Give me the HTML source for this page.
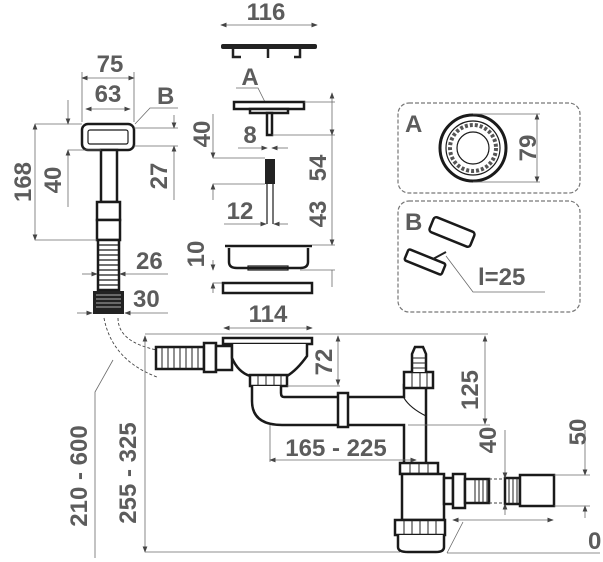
<!DOCTYPE html>
<html><head><style>
html,body{margin:0;padding:0;background:#fff;}
svg{display:block;}
text{font-family:"Liberation Sans",sans-serif;font-weight:bold;fill:#5c5c5c;font-size:24px;}
.d{stroke:#6a6a6a;stroke-width:0.8;fill:none;}
.p{stroke:#1a1a1a;stroke-width:2.5;fill:#fff;}
.t{stroke:#1a1a1a;stroke-width:1.2;fill:none;}
</style></head><body>
<svg width="603" height="562" viewBox="0 0 603 562" xmlns="http://www.w3.org/2000/svg">
<defs>
<marker id="a" markerWidth="8" markerHeight="6" refX="7" refY="3" orient="auto-start-reverse"><path d="M0,0 L8,3 L0,6 z" fill="#444"/></marker>
</defs>

<!-- LEFT handle assembly -->
<text x="110" y="72" text-anchor="middle">75</text>
<line class="d" x1="82" y1="78" x2="134" y2="78" marker-start="url(#a)" marker-end="url(#a)"/>
<line class="d" x1="82" y1="72" x2="82" y2="122"/><line class="d" x1="134" y1="72" x2="134" y2="122"/>
<text x="108" y="102" text-anchor="middle">63</text>
<line class="d" x1="86" y1="109" x2="130" y2="109" marker-start="url(#a)" marker-end="url(#a)"/>
<text x="157" y="104">B</text>
<polyline class="d" points="178,108 150,108 135,124"/>
<rect x="82" y="124" width="52" height="26" rx="6" class="p" stroke-width="3"/>
<rect x="88" y="130" width="40" height="14" rx="2" class="t"/>
<rect x="101" y="150" width="16" height="52" class="p" stroke-width="2"/>
<rect x="97" y="202" width="23" height="18" class="p" stroke-width="2"/>
<rect x="97" y="220" width="23" height="20" class="p" stroke-width="2"/>
<rect x="98" y="240" width="21" height="50" class="p" stroke-width="2"/>
<g class="t" stroke-width="0.8">
<line x1="98" y1="245" x2="119" y2="245"/><line x1="98" y1="250" x2="119" y2="250"/><line x1="98" y1="255" x2="119" y2="255"/><line x1="98" y1="260" x2="119" y2="260"/><line x1="98" y1="265" x2="119" y2="265"/><line x1="98" y1="270" x2="119" y2="270"/><line x1="98" y1="275" x2="119" y2="275"/><line x1="98" y1="280" x2="119" y2="280"/><line x1="98" y1="285" x2="119" y2="285"/>
</g>
<rect x="93" y="291" width="31" height="23" fill="#222"/>
<g stroke="#ddd" stroke-width="0.8"><line x1="96" y1="295" x2="121" y2="295"/><line x1="96" y1="299" x2="121" y2="299"/><line x1="96" y1="303" x2="121" y2="303"/><line x1="96" y1="307" x2="121" y2="307"/></g>
<text transform="translate(31,182) rotate(-90)" text-anchor="middle">168</text>
<line class="d" x1="35" y1="124" x2="35" y2="240" marker-start="url(#a)" marker-end="url(#a)"/>
<line class="d" x1="35" y1="124" x2="82" y2="124"/><line class="d" x1="35" y1="240" x2="97" y2="240"/>
<text transform="translate(61,180) rotate(-90)" text-anchor="middle">40</text>
<line class="d" x1="68" y1="100" x2="68" y2="124" marker-end="url(#a)"/>
<line class="d" x1="68" y1="150" x2="68" y2="207" marker-start="url(#a)"/>
<line class="d" x1="68" y1="150" x2="101" y2="150"/>
<text transform="translate(167,176) rotate(-90)" text-anchor="middle">27</text>
<line class="d" x1="174" y1="115" x2="174" y2="128" marker-end="url(#a)"/>
<line class="d" x1="174" y1="146" x2="174" y2="200" marker-start="url(#a)"/>
<line class="d" x1="134" y1="128" x2="178" y2="128"/><line class="d" x1="134" y1="146" x2="178" y2="146"/>
<text x="136" y="269">26</text>
<line class="d" x1="82" y1="274" x2="97" y2="274" marker-end="url(#a)"/>
<line class="d" x1="120" y1="274" x2="168" y2="274" marker-start="url(#a)"/>
<text x="133" y="307">30</text>
<line class="d" x1="77" y1="313" x2="92" y2="313" marker-end="url(#a)"/>
<line class="d" x1="125" y1="313" x2="168" y2="313" marker-start="url(#a)"/>

<!-- MIDDLE column -->
<text x="266" y="20" text-anchor="middle">116</text>
<line class="d" x1="221" y1="25" x2="317" y2="25" marker-start="url(#a)" marker-end="url(#a)"/>
<rect x="221" y="44" width="96" height="5" rx="2" fill="#222"/>
<path d="M233,49 v8 h8 M268,49 v9 M300,49 v8 h-6" stroke="#222" stroke-width="2.5" fill="none"/>
<text x="250" y="85" text-anchor="middle">A</text>
<polyline class="d" points="236,88 258,88 265,102"/>
<rect x="234" y="102" width="70" height="7" class="p" stroke-width="2"/>
<rect x="250" y="109" width="38" height="4" class="p" stroke-width="1.5"/>
<rect x="267" y="113" width="5" height="22" class="p" stroke-width="1.5"/>
<line class="d" x1="304" y1="102" x2="335" y2="102"/>
<line class="d" x1="272" y1="135" x2="335" y2="135"/>
<text transform="translate(210,134) rotate(-90)" text-anchor="middle">40</text>
<line class="d" x1="213" y1="114" x2="213" y2="158" marker-end="url(#a)"/>
<line class="d" x1="213" y1="184" x2="213" y2="200" marker-start="url(#a)"/>
<line class="d" x1="213" y1="158" x2="265" y2="158"/><line class="d" x1="213" y1="184" x2="265" y2="184"/>
<text x="250" y="143" text-anchor="middle">8</text>
<line class="d" x1="238" y1="148" x2="267" y2="148" marker-end="url(#a)"/>
<line class="d" x1="272" y1="148" x2="288" y2="148" marker-start="url(#a)"/>
<rect x="265" y="159" width="10" height="25" fill="#222"/>
<line x1="267" y1="184" x2="267" y2="224" class="t"/><line x1="273" y1="184" x2="273" y2="224" class="t"/>
<text x="240" y="219" text-anchor="middle">12</text>
<line class="d" x1="224" y1="224" x2="266" y2="224" marker-end="url(#a)"/>
<line class="d" x1="274" y1="224" x2="288" y2="224" marker-start="url(#a)"/>
<text transform="translate(326,168) rotate(-90)" text-anchor="middle">54</text>
<text transform="translate(326,214) rotate(-90)" text-anchor="middle">43</text>
<line class="d" x1="332" y1="93" x2="332" y2="135" marker-start="url(#a)" marker-end="url(#a)"/>
<line class="d" x1="332" y1="135" x2="332" y2="245" marker-end="url(#a)"/>
<line class="d" x1="332" y1="270" x2="332" y2="287"/>
<text transform="translate(204,254) rotate(-90)" text-anchor="middle">10</text>
<line class="d" x1="213" y1="260" x2="213" y2="270" marker-end="url(#a)"/>
<line class="d" x1="213" y1="283" x2="213" y2="293" marker-start="url(#a)"/>
<line class="d" x1="213" y1="283" x2="222" y2="283"/>
<path d="M225,246 h87 M229,248 v14 q0,6 8,6 h63 q8,0 8,-6 v-14" class="p" stroke-width="2"/>
<rect x="248" y="266" width="40" height="4" class="t"/>
<line class="d" x1="312" y1="245" x2="335" y2="245"/>
<line class="d" x1="300" y1="270" x2="335" y2="270"/>
<rect x="223" y="283" width="89" height="10" class="p" stroke-width="2"/>

<!-- Boxes -->
<rect x="398" y="103" width="182" height="90" rx="11" fill="none" stroke="#777" stroke-width="1.2" stroke-dasharray="4,2"/>
<text x="405" y="132">A</text>
<circle cx="473" cy="148" r="33" fill="#fff" stroke="#1a1a1a" stroke-width="3"/>
<circle cx="473" cy="148" r="27" class="t" stroke-width="0.8"/>
<circle cx="473" cy="148" r="16" class="t" stroke-width="0.8"/>
<circle cx="473" cy="148" r="23" fill="none" stroke="#555" stroke-width="4" stroke-dasharray="3,2"/>
<text transform="translate(536,148) rotate(-90)" text-anchor="middle">79</text>
<line class="d" x1="537" y1="114" x2="537" y2="182" marker-start="url(#a)" marker-end="url(#a)"/>
<line class="d" x1="473" y1="114" x2="540" y2="114"/><line class="d" x1="473" y1="182" x2="540" y2="182"/>
<rect x="398" y="201" width="182" height="111" rx="11" fill="none" stroke="#777" stroke-width="1.2" stroke-dasharray="4,2"/>
<text x="405" y="230">B</text>
<rect x="430" y="224" width="44" height="16" rx="3" transform="rotate(22 452 232)" class="p" stroke-width="2.5"/>
<rect x="405" y="256" width="40" height="12" rx="2" transform="rotate(22 425 262)" class="p" stroke-width="2.5"/>
<line x1="433" y1="259" x2="446" y2="252" stroke="#222" stroke-width="2"/>
<polyline class="d" points="446,256 473,292 545,292"/>
<text x="478" y="285">l=25</text>

<!-- LOWER assembly -->
<text x="268" y="322" text-anchor="middle">114</text>
<line class="d" x1="224" y1="328" x2="312" y2="328" marker-start="url(#a)" marker-end="url(#a)"/>
<line class="d" x1="145" y1="334" x2="488" y2="334"/>
<path d="M104,318 Q112,360 157,377" fill="none" stroke="#444" stroke-width="0.9" stroke-dasharray="3,2"/>
<path d="M118,318 Q118,342 157,350" fill="none" stroke="#444" stroke-width="0.9" stroke-dasharray="3,2"/>
<polyline class="d" points="95,558 95,392 113,360"/>
<text transform="translate(87,476) rotate(-90)" text-anchor="middle">210 - 600</text>
<text transform="translate(136,473) rotate(-90)" text-anchor="middle">255 - 325</text>
<line class="d" x1="145" y1="336" x2="145" y2="552" marker-start="url(#a)" marker-end="url(#a)"/>
<line class="d" x1="145" y1="552" x2="400" y2="552"/>
<!-- overflow -->
<rect x="156" y="347" width="48" height="22" class="p" stroke-width="2"/>
<g stroke="#222" stroke-width="1"><line x1="162" y1="347" x2="162" y2="369"/><line x1="168" y1="347" x2="168" y2="369"/><line x1="174" y1="347" x2="174" y2="369"/><line x1="180" y1="347" x2="180" y2="369"/><line x1="186" y1="347" x2="186" y2="369"/><line x1="192" y1="347" x2="192" y2="369"/><line x1="198" y1="347" x2="198" y2="369"/></g>
<rect x="204" y="343" width="12" height="29" class="p" stroke-width="2"/>
<rect x="216" y="346" width="16" height="24" class="p" stroke-width="2"/>
<!-- basin -->
<rect x="223" y="338" width="89" height="6" class="p" stroke-width="2"/>
<path d="M232,344 v14 q6,14 18,18 h37 q10,-6 20,-20 v-12" class="p" stroke-width="2"/>
<rect x="250" y="375" width="37" height="11" class="p" stroke-width="2"/>
<g stroke="#222" stroke-width="1"><line x1="258" y1="375" x2="258" y2="386"/><line x1="266" y1="375" x2="266" y2="386"/><line x1="274" y1="375" x2="274" y2="386"/><line x1="281" y1="375" x2="281" y2="386"/></g>
<line class="d" x1="287" y1="386" x2="340" y2="386"/>
<text transform="translate(332,362) rotate(-90)" text-anchor="middle">72</text>
<line class="d" x1="338" y1="336" x2="338" y2="385" marker-start="url(#a)" marker-end="url(#a)"/>
<!-- pipes -->
<path d="M252,386 v15 q0,24 30,24 h122 v40 h22 v-80 h-22 v12 h-120 q-3,0 -3,-4 v-7" class="p" stroke-width="2.5"/>
<rect x="338" y="393" width="10" height="34" class="p" stroke-width="2"/>
<rect x="404" y="372" width="29" height="16" class="p" stroke-width="2.5"/>
<g stroke="#222" stroke-width="1"><line x1="412" y1="372" x2="412" y2="388"/><line x1="420" y1="372" x2="420" y2="388"/><line x1="427" y1="372" x2="427" y2="388"/></g>
<path d="M412,372 v-18 l3,-7 h8 l3,7 v18" class="p" stroke-width="2"/>
<g stroke="#222" stroke-width="1"><line x1="412" y1="358" x2="426" y2="358"/><line x1="412" y1="363" x2="426" y2="363"/><line x1="412" y1="368" x2="426" y2="368"/></g>
<path d="M404,398 q6,10 22,18" class="t"/>
<line class="d" x1="408" y1="425" x2="490" y2="425"/>
<text transform="translate(478,390) rotate(-90)" text-anchor="middle">125</text>
<line class="d" x1="485" y1="336" x2="485" y2="424" marker-start="url(#a)" marker-end="url(#a)"/>
<text x="336" y="456" text-anchor="middle">165 - 225</text>
<line class="d" x1="270" y1="425" x2="270" y2="462"/>
<line class="d" x1="270" y1="460" x2="416" y2="460" marker-start="url(#a)" marker-end="url(#a)"/>
<!-- trap -->
<rect x="400" y="463" width="38" height="11" class="p" stroke-width="2.5"/>
<g stroke="#222" stroke-width="1"><line x1="410" y1="463" x2="410" y2="474"/><line x1="419" y1="463" x2="419" y2="474"/><line x1="428" y1="463" x2="428" y2="474"/></g>
<path d="M402,474 v46 h42 v-46 z" class="p" stroke-width="2.5"/>
<rect x="395" y="520" width="50" height="15" class="p" stroke-width="2.5"/>
<g stroke="#222" stroke-width="1"><line x1="404" y1="520" x2="404" y2="535"/><line x1="412" y1="520" x2="412" y2="535"/><line x1="420" y1="520" x2="420" y2="535"/><line x1="428" y1="520" x2="428" y2="535"/><line x1="436" y1="520" x2="436" y2="535"/></g>
<path d="M398,535 v12 q0,5 10,5 h28 q8,0 8,-5 v-12" class="p" stroke-width="2.5"/>
<rect x="444" y="478" width="9" height="26" class="p" stroke-width="2"/>
<rect x="453" y="474" width="12" height="34" class="p" stroke-width="2"/>
<rect x="465" y="479" width="24" height="24" class="p" stroke-width="2"/>
<g stroke="#222" stroke-width="1"><line x1="475" y1="479" x2="475" y2="503"/><line x1="479" y1="479" x2="479" y2="503"/><line x1="483" y1="479" x2="483" y2="503"/><line x1="487" y1="479" x2="487" y2="503"/></g>
<line x1="489" y1="479" x2="505" y2="479" stroke="#444" stroke-dasharray="3,2"/>
<line x1="489" y1="503" x2="505" y2="503" stroke="#444" stroke-dasharray="3,2"/>
<rect x="505" y="478" width="15" height="26" class="p" stroke-width="2"/>
<g stroke="#222" stroke-width="1"><line x1="509" y1="478" x2="509" y2="504"/><line x1="513" y1="478" x2="513" y2="504"/><line x1="517" y1="478" x2="517" y2="504"/></g>
<rect x="520" y="475" width="34" height="31" class="p" stroke-width="2.5"/>
<text transform="translate(496,440) rotate(-90)" text-anchor="middle">40</text>
<line class="d" x1="505" y1="430" x2="505" y2="478" marker-end="url(#a)"/>
<line class="d" x1="505" y1="504" x2="505" y2="515" marker-start="url(#a)"/>
<text transform="translate(586,432) rotate(-90)" text-anchor="middle">50</text>
<line class="d" x1="585" y1="430" x2="585" y2="475" marker-end="url(#a)"/>
<line class="d" x1="585" y1="506" x2="585" y2="518" marker-start="url(#a)"/>
<line class="d" x1="554" y1="475" x2="590" y2="475"/><line class="d" x1="554" y1="506" x2="590" y2="506"/>
<line class="d" x1="453" y1="520" x2="553" y2="520" marker-start="url(#a)" marker-end="url(#a)"/>
<polyline class="d" points="447,553 463,522"/>
<line class="d" x1="447" y1="553" x2="600" y2="553"/>
<text x="588" y="549" font-size="26">0</text>
</svg>
</body></html>
